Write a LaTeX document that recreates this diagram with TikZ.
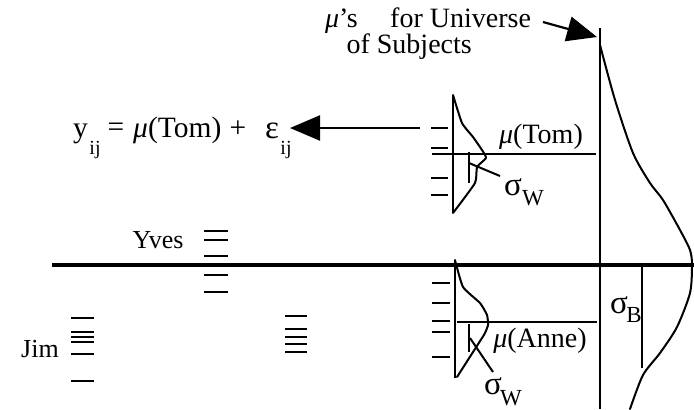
\documentclass[tikz,border=0pt]{standalone}
\usepackage{fontspec}
\setmainfont{Liberation Serif}
\usetikzlibrary{arrows.meta}
\begin{document}
\begin{tikzpicture}[x=1bp,y=-1bp,
  txt/.style={font=\fontsize{28bp}{32bp}\selectfont, inner sep=0pt},
  eqtxt/.style={font=\fontsize{29.5bp}{32bp}\selectfont, inner sep=0pt},
  nametxt/.style={font=\fontsize{26bp}{30bp}\selectfont, inner sep=0pt},
  subtxt/.style={font=\fontsize{20bp}{22bp}\selectfont, inner sep=0pt},
  subcap/.style={font=\fontsize{23bp}{25bp}\selectfont, inner sep=0pt},
  grk/.style={font=\fontsize{33bp}{35bp}\selectfont, inner sep=0pt},
  tickline/.style={line width=2.2bp},
  curveline/.style={line width=2bp, line join=round, line cap=round},
  thinline/.style={line width=2bp},
  bigarrow/.style={line width=2.2bp, -{Triangle[length=30bp,width=25bp]}}]
\useasboundingbox (0,0) rectangle (694,409);

% main axes
\coordinate (hL) at (52,265);
\coordinate (hR) at (694,265);
\draw[line width=4.2bp] (hL) -- (hR);
\coordinate (vT) at (600,28);
\coordinate (vB) at (600,409);
\draw[line width=2.6bp] (vT) -- (vB);

% universe distribution
\draw[curveline] plot[smooth,tension=0.45] coordinates {(600,45) (615,100) (633,153) (650,183) (663,200) (680,230) (690,250) (692,265) (690,293) (677,327) (660,353) (643,375) (630,409)};
\coordinate (sbT) at (642,265);
\coordinate (sbB) at (642,368);
\draw[thinline] (sbT) -- (sbB);
\node[grk] (sigB) at (619,305) {σ};
\node[subcap] (subB) at (634,315) {B};

% Universe label and arrow
\node[txt, anchor=base east] (mus) at (358,27) {\textit{μ}'s};
\node[txt, anchor=base west] (univ) at (390,27) {for Universe};
\node[txt, anchor=base east] (subj) at (472,53) {of Subjects};
\coordinate (ua0) at (543,22);
\coordinate (ua1) at (597,37);
\draw[bigarrow] (ua0) -- (ua1);

% Tom distribution
\coordinate (tT) at (453,95);
\coordinate (tB) at (453,213);
\draw[thinline] (tT) -- (tB);
\draw[curveline] plot[smooth,tension=0.3] coordinates {(453,95) (462,123) (473,137) (482,150) (486,158) (477,167) (475,183) (453,213)};
\foreach \yy in {128,148,178,195} \draw[tickline] (431,\yy) -- (448,\yy);
\coordinate (tmL) at (432,154);
\coordinate (tmR) at (596,154);
\draw[thinline] (tmL) -- (tmR);
\node[txt, anchor=base] (muTom) at (541,143) {\textit{μ}(Tom)};
\coordinate (tsT) at (469,152);
\coordinate (tsB) at (469,183);
\draw[thinline] (tsT) -- (tsB);
\coordinate (tl0) at (469,163);
\coordinate (tl1) at (500,176);
\draw[thinline] (tl0) -- (tl1);
\node[grk] (sigWt) at (513,187) {σ};
\node[subcap] (subWt) at (533,198) {W};

% equation and arrow
\node[eqtxt, anchor=base west] (ey) at (73,137) {y};
\node[subtxt] (eyij) at (95,150) {ij};
\node[eqtxt] (eeq) at (116,130) {=};
\node[eqtxt, anchor=base west] (emu) at (133,137) {\textit{μ}(Tom)};
\node[eqtxt] (eplus) at (238,129) {+};
\node[grk] (eeps) at (272,131) {ε};
\node[subtxt] (eepsij) at (286,150) {ij};
\coordinate (ta0) at (420,128);
\coordinate (ta1) at (290,128);
\draw[bigarrow] (ta0) -- (ta1);

% Anne distribution
\coordinate (aT) at (455,260);
\coordinate (aB) at (455,378);
\draw[thinline] (aT) -- (aB);
\draw[curveline] plot[smooth,tension=0.3] coordinates {(455,260) (463,287) (480,303) (487,315) (488,325) (485,333) (482,338) (457,377)};
\foreach \yy in {283,303,321,332,357} \draw[tickline] (432,\yy) -- (450,\yy);
\coordinate (amL) at (457,322);
\coordinate (amR) at (597,322);
\draw[thinline] (amL) -- (amR);
\node[txt, anchor=base] (muAnne) at (540,347) {\textit{μ}(Anne)};
\coordinate (asT) at (469,324);
\coordinate (asB) at (469,352);
\draw[thinline] (asT) -- (asB);
\coordinate (al0) at (470,338);
\coordinate (al1) at (493,372);
\draw[thinline] (al0) -- (al1);
\node[grk] (sigWa) at (493,386) {σ};
\node[subcap] (subWa) at (511,398) {W};

% Yves
\node[nametxt, anchor=base] (yves) at (158,248) {Yves};
\foreach \yy in {231,240,256,275,292} \draw[tickline] (204,\yy) -- (228,\yy);

% Jim
\node[nametxt, anchor=base] (jim) at (40,357) {Jim};
\foreach \yy in {318,331.5,336.5,341.5,354,381} \draw[tickline,line width=2bp] (71,\yy) -- (94,\yy);

% middle group
\foreach \yy in {316,329,337,344,352} \draw[tickline] (285,\yy) -- (307,\yy);
\end{tikzpicture}
\end{document}
